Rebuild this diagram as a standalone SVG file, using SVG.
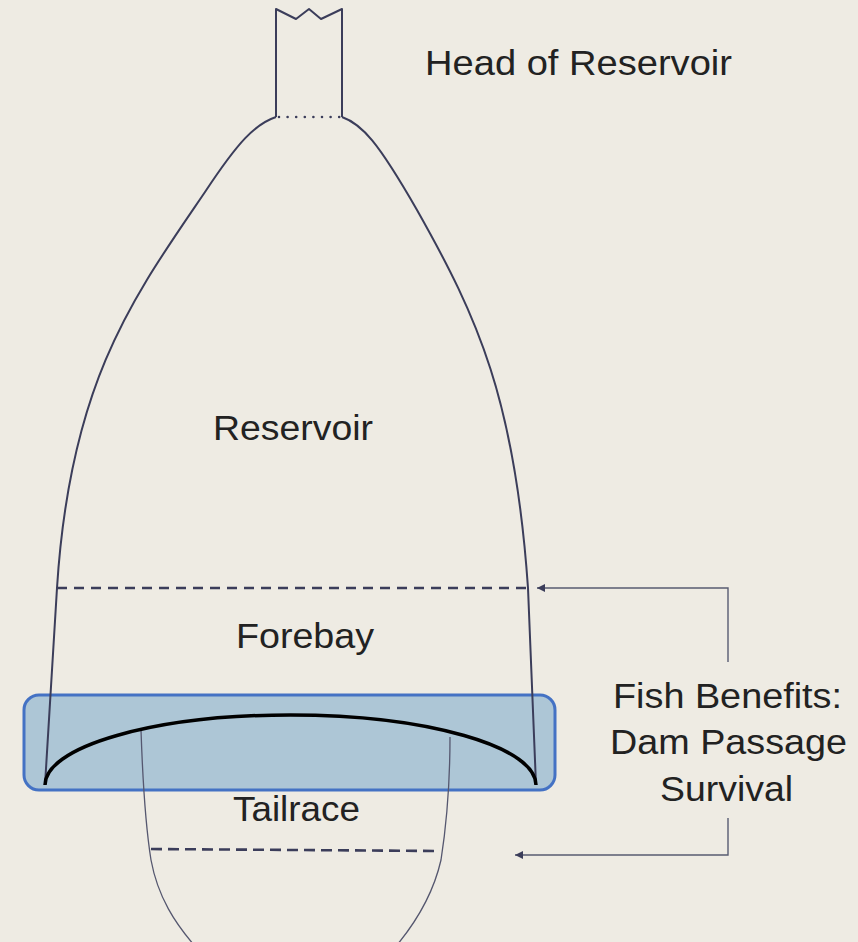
<svg xmlns="http://www.w3.org/2000/svg" width="858" height="942" viewBox="0 0 858 942">
<defs>
<style>
.bg{fill:#eeebe3}
.outline{fill:none;stroke:#3b3d5a;stroke-width:2;stroke-linejoin:round}
.thin{fill:none;stroke:#55576f;stroke-width:1.3}
.dash{fill:none;stroke:#3b3d5a;stroke-width:2.6}
.arc{fill:none;stroke:#000;stroke-width:3.5}
.box{fill:#adc6d6;stroke:#4472c4;stroke-width:3}
.conn{fill:none;stroke:#585c72;stroke-width:1.4}
.lbl{font-family:"Liberation Sans",Arial,sans-serif;font-size:35px;fill:#222}
</style>
<marker id="ah" viewBox="0 0 10 10" refX="10" refY="5" markerWidth="10" markerHeight="8" markerUnits="userSpaceOnUse" orient="auto">
<path d="M0,0 L10,5 L0,10 z" fill="#3b3d5a"/>
</marker>
</defs>
<rect class="bg" x="0" y="0" width="858" height="942"/>

<g id="dam-box">
<rect class="box" x="24" y="695" width="531" height="95" rx="15" ry="15"/>
</g>

<g id="head">
<path class="outline" d="M276 117 L276 9 L296 19 L309 9 L321 19 L342 9 L342 117"/>
<line x1="279" y1="117" x2="340" y2="117" stroke="#3b3d5a" stroke-width="2.6" stroke-linecap="round" stroke-dasharray="0 8.6"/>
<text class="lbl" x="425" y="75" textLength="307" lengthAdjust="spacingAndGlyphs">Head of Reservoir</text>
</g>

<g id="reservoir">
<path class="outline" d="M276 117 C255 124 238 142 205 192 C135 295 70 380 57 588 L45 785"/>
<path class="outline" d="M342 117 C362 124 378 142 417 210 C478 318 515 400 528 588 L536 785"/>
<text class="lbl" x="213" y="440" textLength="160" lengthAdjust="spacingAndGlyphs">Reservoir</text>
</g>

<g id="forebay">
<line class="dash" x1="57" y1="588" x2="528" y2="588" stroke-dasharray="10 7"/>
<text class="lbl" x="236" y="648" textLength="138" lengthAdjust="spacingAndGlyphs">Forebay</text>
</g>

<g id="tailrace">
<path class="thin" d="M141 730 C143 790 147 835 151 860 C158 898 176 924 194 945"/>
<path class="thin" d="M450 737 C450 790 446 828 441 860 C433 895 416 922 397 945"/>
<line class="dash" x1="151" y1="849" x2="440" y2="851" stroke-dasharray="11 6"/>
<text class="lbl" x="233" y="821" textLength="127" lengthAdjust="spacingAndGlyphs">Tailrace</text>
</g>

<g id="dam">
<path class="arc" d="M45 785 A245.5 70 0 0 1 536 785"/>
</g>

<g id="fish-benefits">
<text class="lbl" x="613" y="708" textLength="229" lengthAdjust="spacingAndGlyphs">Fish Benefits:</text>
<text class="lbl" x="610" y="754" textLength="237" lengthAdjust="spacingAndGlyphs">Dam Passage</text>
<text class="lbl" x="660" y="801" textLength="133" lengthAdjust="spacingAndGlyphs">Survival</text>
</g>

<g id="connectors">
<path class="conn" d="M728 662 L728 588 L537 588" marker-end="url(#ah)"/>
<path class="conn" d="M728 818 L728 855 L515 855" marker-end="url(#ah)"/>
</g>
</svg>
